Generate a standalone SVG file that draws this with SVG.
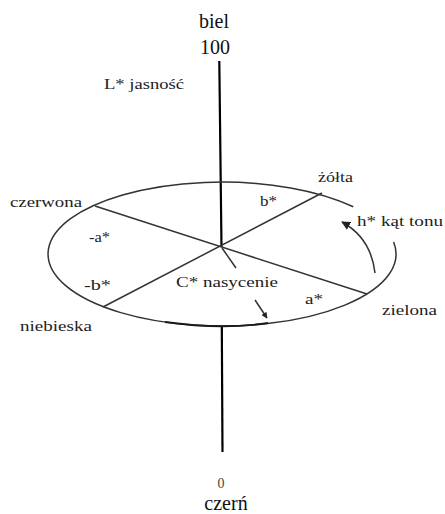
<svg xmlns="http://www.w3.org/2000/svg" width="445" height="514" viewBox="0 0 445 514">
<style>
.lbl{font-family:"Liberation Serif","Times New Roman",serif;font-size:15px;fill:#222}
.big{font-family:"Liberation Serif","Times New Roman",serif;font-size:20px;fill:#111;text-anchor:middle}
.ln{stroke:#333;stroke-width:1.5;fill:none}
.axis{stroke:#000;stroke-width:2.2;fill:none}
</style>
<defs>
<marker id="ah" viewBox="0 0 10 10" refX="9" refY="5" markerWidth="6" markerHeight="6" orient="auto" markerUnits="userSpaceOnUse">
<path d="M0,0 L10,5 L0,10 z" fill="#222"/>
</marker>
<marker id="ah2" viewBox="0 0 10 10" refX="9" refY="5" markerWidth="9" markerHeight="9" orient="auto" markerUnits="userSpaceOnUse">
<path d="M0,0 L10,5 L0,10 z" fill="#222"/>
</marker>
</defs>
<g id="connectors">
<path id="axis-top" class="axis" d="M219.3,61 L221.5,247"/>
<path id="axis-bottom" class="axis" d="M221.8,326 L222.5,452"/>
<path id="ellipse" class="ln" d="M393.6,242 A174,72 0 1 1 353.3,206.8"/>
<path id="bottom-dark" stroke="#1a1a1a" stroke-width="1.8" fill="none" d="M165,322 Q222,330 268,323"/>
<line id="a-axis" class="ln" x1="95" y1="206" x2="367" y2="294"/>
<line id="b-axis" class="ln" x1="103" y1="307" x2="322" y2="193"/>
<line id="c-line" class="ln" x1="222" y1="248" x2="236" y2="268"/>
<line id="c-arrow" class="ln" x1="255" y1="300" x2="267" y2="318" marker-end="url(#ah)"/>
<path id="h-arrow" class="ln" d="M375,273 Q371,238 342,222" marker-end="url(#ah2)"/>
</g>
<g id="n-biel"><text class="big" x="214" y="28">biel</text></g>
<g id="n-100"><text class="big" x="215" y="54">100</text></g>
<g id="n-L"><text class="lbl" x="104" y="89" textLength="80" lengthAdjust="spacingAndGlyphs">L* jasność</text></g>
<g id="n-czerwona"><text class="lbl" x="10" y="207" textLength="72" lengthAdjust="spacingAndGlyphs">czerwona</text></g>
<g id="n-zolta"><text class="lbl" x="318" y="182" textLength="35" lengthAdjust="spacingAndGlyphs">żółta</text></g>
<g id="n-bplus"><text class="lbl" x="260" y="206" textLength="17" lengthAdjust="spacingAndGlyphs">b*</text></g>
<g id="n-h"><text class="lbl" x="357" y="226" textLength="86" lengthAdjust="spacingAndGlyphs">h* kąt tonu</text></g>
<g id="n-aminus"><text class="lbl" x="89" y="242" textLength="21" lengthAdjust="spacingAndGlyphs">-a*</text></g>
<g id="n-bminus"><text class="lbl" x="84" y="290" textLength="27" lengthAdjust="spacingAndGlyphs">-b*</text></g>
<g id="n-C"><text class="lbl" x="176" y="287" textLength="102" lengthAdjust="spacingAndGlyphs">C* nasycenie</text></g>
<g id="n-aplus"><text class="lbl" x="305" y="304" textLength="18" lengthAdjust="spacingAndGlyphs">a*</text></g>
<g id="n-zielona"><text class="lbl" x="382" y="315" textLength="55" lengthAdjust="spacingAndGlyphs">zielona</text></g>
<g id="n-niebieska"><text class="lbl" x="20" y="331" textLength="72" lengthAdjust="spacingAndGlyphs">niebieska</text></g>
<g id="n-0"><text class="big" x="221" y="488" style="font-size:14px;fill:#444">0</text></g>
<g id="n-czern"><text class="big" x="226" y="510">czerń</text></g>
</svg>
